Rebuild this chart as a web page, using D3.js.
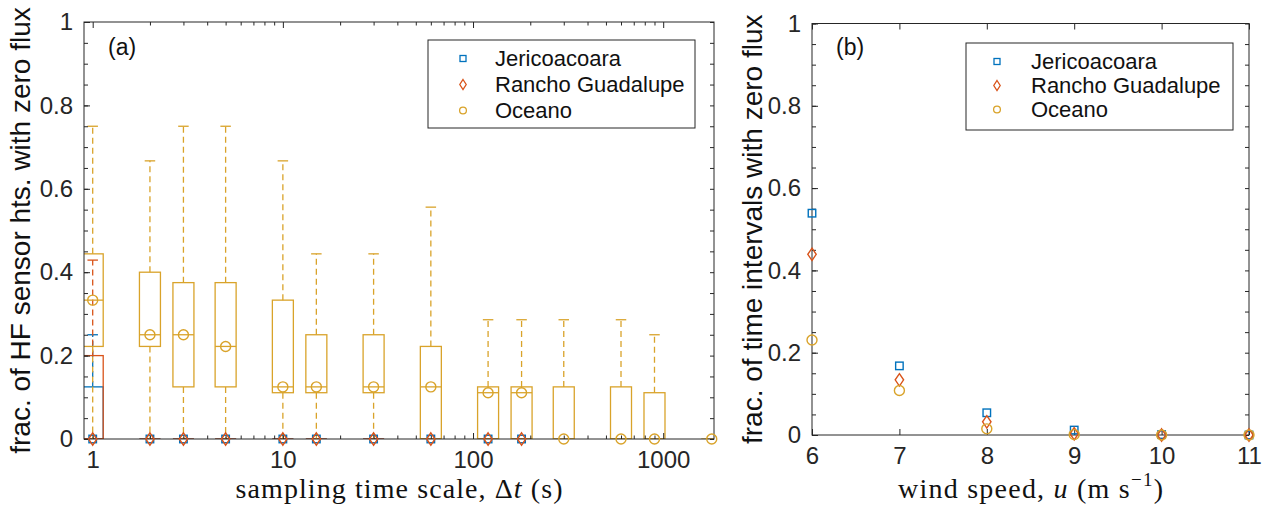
<!DOCTYPE html>
<html>
<head>
<meta charset="utf-8">
<script src="https://cdn.jsdelivr.net/npm/d3@7"></script>
<style>
body { margin: 0; background: #fff; }
</style>
</head>
<body>
<svg id="chart" width="1266" height="508"></svg>
<script>
// (a) sampling time scales, s
var dtVals = [1, 2, 3, 5, 10, 15, 30, 60, 120, 180, 300, 600, 900, 1800];
// box stats per time scale: [q1, median, q3, upper whisker]  (lower whisker = 0)
var jeriStats = [[0, 0, 0.125, 0.25], [0, 0, 0, 0], [0, 0, 0, 0], [0, 0, 0, 0], [0, 0, 0, 0],
    [0, 0, 0, 0], [0, 0, 0, 0], [0, 0, 0, 0], [0, 0, 0, 0], [0, 0, 0, 0], null, null, null, null];
var ranchoStats = [[0, 0, 0.2, 0.429], [0, 0, 0, 0], [0, 0, 0, 0], [0, 0, 0, 0], [0, 0, 0, 0],
    [0, 0, 0, 0], [0, 0, 0, 0], [0, 0, 0, 0], [0, 0, 0, 0], [0, 0, 0, 0], null, null, null, null];
var oceanoStats = [[0.222, 0.333, 0.444, 0.75], [0.222, 0.25, 0.4, 0.667], [0.125, 0.25, 0.375, 0.75],
    [0.125, 0.222, 0.375, 0.75], [0.111, 0.125, 0.333, 0.667], [0.111, 0.125, 0.25, 0.444],
    [0.111, 0.125, 0.25, 0.444], [0, 0.125, 0.222, 0.556], [0, 0.111, 0.125, 0.286],
    [0, 0.111, 0.125, 0.286], [0, 0, 0.125, 0.286], [0, 0, 0.125, 0.286], [0, 0, 0.111, 0.25], [0, 0, 0, 0]];

// (b) wind speed, m/s
var windVals = [6, 7, 8, 9, 10, 11];
var jeriZero = [0.539, 0.168, 0.054, 0.012, 0.001, 0];
var ranchoZero = [0.439, 0.134, 0.032, 0.003, 0, 0];
var oceanoZero = [0.231, 0.108, 0.015, 0.001, 0, 0];

var siteNames = ["Jericoacoara", "Rancho Guadalupe", "Oceano"];
var xTicksA = [1, 10, 100, 1000];
var xTicksB = [6, 7, 8, 9, 10, 11];
var yTicks = [0, 0.2, 0.4, 0.6, 0.8, 1];

var COLORS = ["#0072BD", "#D95319", "#D9A32A"];
var SHAPES = ["square", "diamond", "circle"];
var INK = "#262626";
var SANS = "'Liberation Sans', Arial, Helvetica, sans-serif";
var SERIF = "'Liberation Serif', 'Times New Roman', serif";

var svg = d3.select("#chart");
svg.append("rect").attr("width", 1266).attr("height", 508).attr("fill", "#fff");

var PA = {left: 84, right: 714, top: 22, bottom: 439};
var PB = {left: 812, right: 1249, top: 23.5, bottom: 435};

var xA = d3.scaleLog().domain([0.9, 1850]).range([PA.left, PA.right]);
var yA = d3.scaleLinear().domain([0, 1]).range([PA.bottom, PA.top]);
var xB = d3.scaleLinear().domain([6, 11]).range([PB.left, PB.right]);
var yB = d3.scaleLinear().domain([0, 1]).range([PB.bottom, PB.top]);

// marker drawing
function marker(g, shape, x, y, color, s) {
    if (shape == "square") {
        g.append("rect").attr("x", x - s.sq / 2).attr("y", y - s.sq / 2)
            .attr("width", s.sq).attr("height", s.sq)
            .attr("fill", "none").attr("stroke", color).attr("stroke-width", s.sw);
    } else if (shape == "diamond") {
        g.append("path")
            .attr("d", "M" + x + "," + (y - s.dh) + "L" + (x + s.dw) + "," + y +
                "L" + x + "," + (y + s.dh) + "L" + (x - s.dw) + "," + y + "Z")
            .attr("fill", "none").attr("stroke", color).attr("stroke-width", s.sw);
    } else {
        g.append("circle").attr("cx", x).attr("cy", y).attr("r", s.r)
            .attr("fill", "none").attr("stroke", color).attr("stroke-width", s.sw);
    }
}

var bigMk = {sq: 7.5, dw: 4.2, dh: 6.2, r: 5, sw: 1.4};
var legMk = {sq: 6, dw: 3.2, dh: 5, r: 3.4, sw: 1.3};

// axes frame + ticks
function frame(P, x, y, xMajor, xMinor, fmtX) {
    var g = svg.append("g");
    var fmtY = function(d) { return d == 0 || d == 1 ? String(d) : d3.format(".1f")(d); };
    var yMinor = d3.range(0, 1.0001, 0.05).map(function(v) { return +v.toFixed(2); });

    function style(sel) {
        sel.select(".domain").remove();
        sel.selectAll("line").attr("stroke", INK).attr("stroke-width", 1);
        sel.selectAll("text").attr("fill", INK).attr("font-family", SANS).attr("font-size", 24);
    }
    g.append("g").attr("transform", "translate(0," + P.bottom + ")")
        .call(d3.axisBottom(x).tickValues(xMajor).tickFormat(fmtX).tickSizeInner(-6).tickSizeOuter(0).tickPadding(12))
        .call(style);
    g.append("g").attr("transform", "translate(0," + P.top + ")")
        .call(d3.axisTop(x).tickValues(xMajor).tickFormat("").tickSizeInner(-6).tickSizeOuter(0))
        .call(style);
    if (xMinor.length) {
        g.append("g").attr("transform", "translate(0," + P.bottom + ")")
            .call(d3.axisBottom(x).tickValues(xMinor).tickFormat("").tickSizeInner(-3.5).tickSizeOuter(0))
            .call(style);
        g.append("g").attr("transform", "translate(0," + P.top + ")")
            .call(d3.axisTop(x).tickValues(xMinor).tickFormat("").tickSizeInner(-3.5).tickSizeOuter(0))
            .call(style);
    }
    g.append("g").attr("transform", "translate(" + P.left + ",0)")
        .call(d3.axisLeft(y).tickValues(yTicks).tickFormat(fmtY).tickSizeInner(-6).tickSizeOuter(0).tickPadding(11))
        .call(style);
    g.append("g").attr("transform", "translate(" + P.left + ",0)")
        .call(d3.axisLeft(y).tickValues(yMinor).tickFormat("").tickSizeInner(-4).tickSizeOuter(0))
        .call(style);
    g.append("g").attr("transform", "translate(" + P.right + ",0)")
        .call(d3.axisRight(y).tickValues(yMinor).tickFormat("").tickSizeInner(-4).tickSizeOuter(0))
        .call(style);
    g.append("rect").attr("x", P.left).attr("y", P.top)
        .attr("width", P.right - P.left).attr("height", P.bottom - P.top)
        .attr("fill", "none").attr("stroke", INK).attr("stroke-width", 1);
    return g;
}

function legend(x0, y0, w, h, mx, tx, rows) {
    var g = svg.append("g");
    g.append("rect").attr("x", x0).attr("y", y0).attr("width", w).attr("height", h)
        .attr("fill", "#fff").attr("stroke", INK).attr("stroke-width", 1);
    siteNames.forEach(function(name, i) {
        marker(g, SHAPES[i], mx, rows[i], COLORS[i], legMk);
        g.append("text").attr("x", tx).attr("y", rows[i]).attr("dy", "0.36em")
            .attr("font-family", SANS).attr("font-size", 22).attr("fill", "#111")
            .text(name);
    });
}

// ---------- panel (a): box plots ----------
var defs = svg.append("defs");
defs.append("clipPath").attr("id", "clipA").append("rect")
    .attr("x", PA.left).attr("y", PA.top).attr("width", PA.right - PA.left).attr("height", PA.bottom - PA.top);

var plotA = svg.append("g").attr("clip-path", "url(#clipA)");
var HW = 10.5; // half box width, px
var allStats = [jeriStats, ranchoStats, oceanoStats];

allStats.forEach(function(stats, k) {
    var col = COLORS[k];
    var g = plotA.append("g").attr("stroke", col).attr("fill", "none").attr("stroke-width", 1.3);
    stats.forEach(function(s, i) {
        if (!s) return;
        var cx = xA(dtVals[i]);
        var q1 = s[0], med = s[1], q3 = s[2], hi = s[3];
        if (hi > q3) {
            g.append("line").attr("x1", cx).attr("x2", cx).attr("y1", yA(q3)).attr("y2", yA(hi))
                .attr("stroke-dasharray", "6,4");
        }
        if (q1 > 0) {
            g.append("line").attr("x1", cx).attr("x2", cx).attr("y1", yA(q1)).attr("y2", yA(0))
                .attr("stroke-dasharray", "6,4");
        }
        g.append("line").attr("x1", cx - HW / 2).attr("x2", cx + HW / 2).attr("y1", yA(hi)).attr("y2", yA(hi));
        g.append("rect").attr("x", cx - HW).attr("y", yA(q3))
            .attr("width", 2 * HW).attr("height", yA(q1) - yA(q3));
        g.append("line").attr("x1", cx - HW).attr("x2", cx + HW).attr("y1", yA(med)).attr("y2", yA(med));
    });
});

var minorA = [];
xTicksA.forEach(function(d) {
    for (var m = 2; m <= 9; m++) { if (m * d <= 1850) minorA.push(m * d); }
});
frame(PA, xA, yA, xTicksA, minorA, function(d) { return String(d); });

// median markers, not clipped so the ones at zero show in full
var mkA = svg.append("g");
allStats.forEach(function(stats, k) {
    stats.forEach(function(s, i) {
        if (!s) return;
        marker(mkA, SHAPES[k], xA(dtVals[i]), yA(s[1]), COLORS[k], bigMk);
    });
});

// ---------- panel (b): scatter ----------
frame(PB, xB, yB, xTicksB, [], function(d) { return String(d); });
var plotB = svg.append("g");
[jeriZero, ranchoZero, oceanoZero].forEach(function(vals, k) {
    vals.forEach(function(v, i) {
        marker(plotB, SHAPES[k], xB(windVals[i]), yB(v), COLORS[k], bigMk);
    });
});

// legends
legend(428, 40, 267, 88, 463, 495, [58.5, 84.5, 110.5]);
legend(966, 43, 267, 87, 997, 1031, [61.5, 85.5, 109.5]);

// panel tags
svg.append("text").attr("x", 108).attr("y", 55).attr("font-family", SANS).attr("font-size", 23)
    .attr("fill", "#111").text("(a)");
svg.append("text").attr("x", 836).attr("y", 55).attr("font-family", SANS).attr("font-size", 23)
    .attr("fill", "#111").text("(b)");

// y labels
svg.append("text").attr("transform", "translate(30," + ((PA.top + PA.bottom) / 2) + ") rotate(-90)")
    .attr("text-anchor", "middle").attr("font-family", SANS).attr("font-size", 28).attr("fill", "#111")
    .text("frac. of HF sensor hts. with zero flux");
svg.append("text").attr("transform", "translate(762," + ((PB.top + PB.bottom) / 2) + ") rotate(-90)")
    .attr("text-anchor", "middle").attr("font-family", SANS).attr("font-size", 28).attr("fill", "#111")
    .text("frac. of time intervals with zero flux");

// x labels (LaTeX style)
var xl = svg.append("text").attr("x", (PA.left + PA.right) / 2).attr("y", 498)
    .attr("text-anchor", "middle").attr("font-family", SERIF).attr("font-size", 28).attr("fill", "#111")
    .attr("textLength", 327).attr("lengthAdjust", "spacing");
xl.append("tspan").text("sampling time scale, \u0394");
xl.append("tspan").attr("font-style", "italic").text("t");
xl.append("tspan").text(" (s)");

var xr = svg.append("text").attr("x", (PB.left + PB.right) / 2).attr("y", 498)
    .attr("text-anchor", "middle").attr("font-family", SERIF).attr("font-size", 28).attr("fill", "#111")
    .attr("textLength", 265).attr("lengthAdjust", "spacing");
xr.append("tspan").text("wind speed, ");
xr.append("tspan").attr("font-style", "italic").text("u");
xr.append("tspan").text(" (m s");
xr.append("tspan").attr("font-size", 19).attr("dy", -12).text("\u22121");
xr.append("tspan").attr("dy", 12).text(")");
</script>
</body>
</html>
